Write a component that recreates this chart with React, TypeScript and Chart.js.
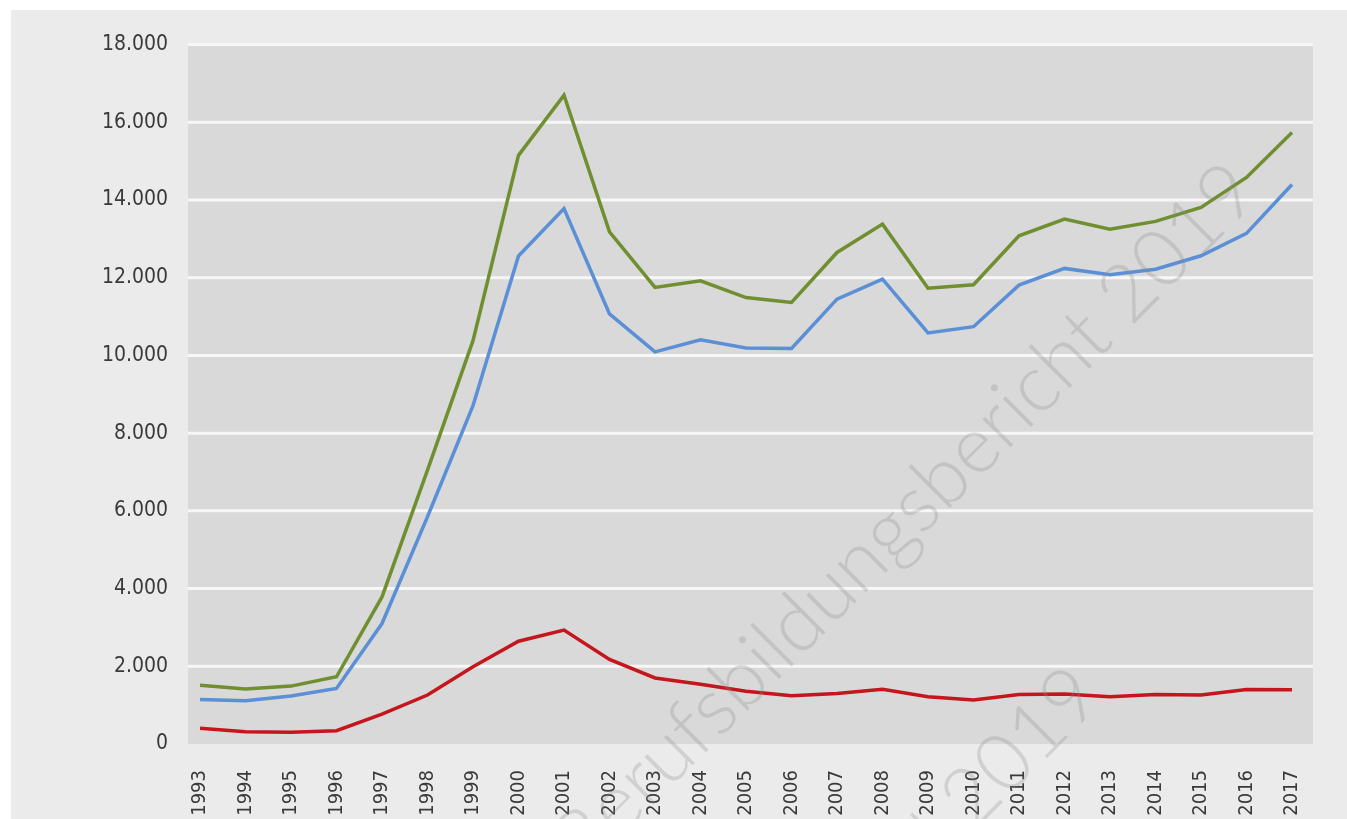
import React, { useEffect, useRef } from "react";
import { Chart, registerables } from "chart.js";

Chart.register(...registerables);

const years = [
  "1993", "1994", "1995", "1996", "1997", "1998", "1999", "2000", "2001",
  "2002", "2003", "2004", "2005", "2006", "2007", "2008", "2009", "2010",
  "2011", "2012", "2013", "2014", "2015", "2016", "2017",
];

const greenSeries = [
  1515, 1413, 1490, 1730, 3785, 7050, 10380, 15150, 16700, 13180, 11750,
  11920, 11490, 11365, 12650, 13380, 11730, 11820, 13080, 13510, 13250,
  13450, 13810, 14580, 15740,
];

const blueSeries = [
  1148, 1113, 1233, 1430, 3100, 5850, 8710, 12560, 13780, 11070, 10090,
  10400, 10190, 10180, 11450, 11965, 10580, 10740, 11810, 12240, 12075,
  12220, 12565, 13140, 14400,
];

const redSeries = [
  403, 316, 300, 342, 770, 1260, 1987, 2646, 2930, 2176, 1700, 1540, 1360,
  1240, 1300, 1410, 1216, 1130, 1276, 1285, 1216, 1276, 1260, 1405, 1395,
];

const yTicks = [0, 2000, 4000, 6000, 8000, 10000, 12000, 14000, 16000, 18000];

const watermarkLines = ["Berufsbildungsbericht 2019", "VORVERSION 2019"];

const fmt = (v: number) =>
  String(Math.round(v)).replace(/\B(?=(\d{3})+(?!\d))/g, ".");

const backgroundPlugin = {
  id: "bgPlugin",
  beforeDraw(chart: any) {
    const { ctx, chartArea, scales } = chart;
    const y = scales.y;
    ctx.save();
    ctx.fillStyle = "#ffffff";
    ctx.fillRect(0, 0, chart.width, chart.height);
    ctx.fillStyle = "#ebebeb";
    ctx.fillRect(11, 10, chart.width - 11, chart.height - 10);
    const left = chartArea.left - 12;
    const right = chartArea.right + 21;
    const top = y.getPixelForValue(18000);
    const bottom = y.getPixelForValue(0);
    ctx.fillStyle = "#d9d9d9";
    ctx.fillRect(left, top, right - left, bottom - top);
    ctx.strokeStyle = "#f7f7f7";
    ctx.lineWidth = 3;
    yTicks.forEach((v) => {
      if (v === 0) return;
      const py = y.getPixelForValue(v);
      ctx.beginPath();
      ctx.moveTo(left, py);
      ctx.lineTo(right, py);
      ctx.stroke();
    });
    ctx.restore();
  },
  afterDatasetsDraw(chart: any) {
    const { ctx } = chart;
    ctx.save();
    ctx.fillStyle = "rgba(140,140,140,0.28)";
    ctx.font = '300 80px Lato, "Open Sans", sans-serif';
    ctx.textAlign = "right";
    ctx.textBaseline = "alphabetic";
    ctx.translate(1262, 196);
    ctx.rotate(-Math.PI / 4);
    ctx.fillText(watermarkLines[0], 0, 0);
    ctx.restore();
    ctx.save();
    ctx.fillStyle = "rgba(140,140,140,0.28)";
    ctx.font = '300 80px Lato, "Open Sans", sans-serif';
    ctx.textAlign = "right";
    ctx.translate(1105, 700);
    ctx.rotate(-Math.PI / 4);
    ctx.fillText(watermarkLines[1], 0, 0);
    ctx.restore();
  },
};

export default function App() {
  const canvasRef = useRef<HTMLCanvasElement | null>(null);

  useEffect(() => {
    document.body.style.margin = "0";
    const canvas = canvasRef.current;
    if (!canvas) return;
    const family = '"DejaVu Sans Condensed", "DejaVu Sans", sans-serif';
    const chart = new Chart(canvas, {
      type: "line",
      data: {
        labels: years,
        datasets: [
          {
            label: "gesamt",
            data: greenSeries,
            borderColor: "#6f8f30",
            borderWidth: 3.5,
            pointRadius: 0,
            tension: 0,
          },
          {
            label: "blau",
            data: blueSeries,
            borderColor: "#5b8fd6",
            borderWidth: 3.5,
            pointRadius: 0,
            tension: 0,
          },
          {
            label: "rot",
            data: redSeries,
            borderColor: "#c4161c",
            borderWidth: 3.5,
            pointRadius: 0,
            tension: 0,
          },
        ],
      },
      options: {
        animation: false,
        responsive: false,
        maintainAspectRatio: false,
        layout: { padding: { top: 43.5, right: 55, left: 0, bottom: 0 } },
        plugins: {
          legend: { display: false },
          tooltip: { enabled: false },
        },
        scales: {
          x: {
            type: "category",
            offset: false,
            grid: { display: false, drawTicks: false },
            border: { display: false },
            ticks: {
              autoSkip: false,
              minRotation: 90,
              maxRotation: 90,
              padding: 26,
              color: "#3a3a3a",
              font: { family, size: 20 },
            },
            afterFit: (s: any) => {
              s.height = 75;
            },
          },
          y: {
            min: 0,
            max: 18000,
            grid: { display: false, drawTicks: false },
            border: { display: false },
            afterBuildTicks: (s: any) => {
              s.ticks = yTicks.map((v) => ({ value: v }));
            },
            ticks: {
              padding: 32,
              color: "#3a3a3a",
              font: { family, size: 21 },
              callback: (v: any) => fmt(Number(v)),
            },
            afterFit: (s: any) => {
              s.width = 200;
            },
          },
        },
      },
      plugins: [backgroundPlugin],
    });
    return () => chart.destroy();
  }, []);

  return (
    <div style={{ position: "fixed", left: 0, top: 0, width: 1347, height: 819 }}>
      <canvas ref={canvasRef} width={1347} height={819} style={{ display: "block" }} />
    </div>
  );
}
